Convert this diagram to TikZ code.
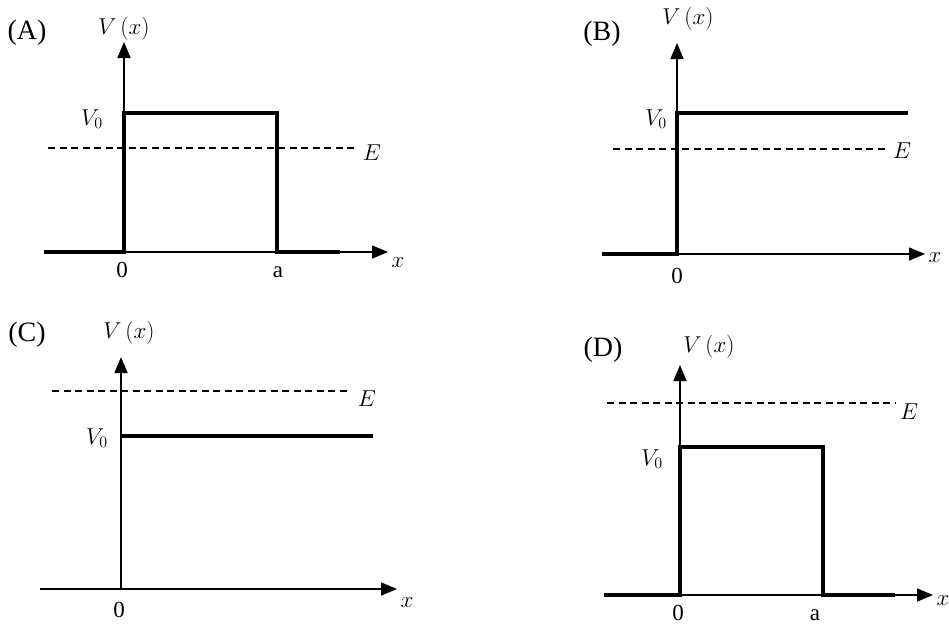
\documentclass[tikz,border=0pt]{standalone}
\usepackage{fix-cm}
\usepackage{amsmath}
\usepackage{fontspec}
\setmainfont{Liberation Serif}
\usetikzlibrary{arrows.meta,positioning}

\begin{document}
\begin{tikzpicture}[
 x=1pt,y=-1pt,
 axis/.style={line width=1.5pt,-{Triangle[length=16pt,width=13pt]}},
 wall/.style={line width=3.6pt,line join=miter},
 level/.style={line width=1.1pt,dash pattern=on 7pt off 4.5pt},
 lbl/.style={font=\fontsize{23}{27}\selectfont,inner sep=0pt},
 tag/.style={font=\fontsize{28}{32}\selectfont,inner sep=0pt},
 tick/.style={lbl,anchor=base}
]
\useasboundingbox (0,0) rectangle (949,627);

% (A) finite barrier, E below V0
\coordinate (a-left) at (44,252);
\coordinate (a-o) at (124,252);
\coordinate (a-top) at (124,42);
\coordinate (a-tip) at (388,252);
\coordinate (a-v0l) at (124,113);
\coordinate (a-v0r) at (277,113);
\coordinate (a-a) at (277,252);
\coordinate (a-end) at (340,252);
\coordinate (a-el) at (48,148);
\coordinate (a-er) at (357,148);
\draw[axis] (a-o) -- (a-top);
\draw[axis] (a-left) -- (a-tip);
\draw[wall] (a-left) -- (a-o) -- (a-v0l) -- (a-v0r) -- (a-a) -- (a-end);
\draw[level] (a-el) -- (a-er);
\node[tag] (a-tag) at (27,33) {(A)};
\node[lbl] (a-vx) at (124,29) {$V\,(x)$};
\node[lbl] (a-v0) at (92,119) {$V_0$};
\node[lbl] (a-e) at (372,153) {$E$};
\node[lbl] (a-x) at (398,263) {$x$};
\node[tick] (a-zero) at (122,277) {0};
\node[tick] (a-alab) at (278,277) {a};

% (B) step, E below V0
\coordinate (b-left) at (602,254);
\coordinate (b-o) at (677,254);
\coordinate (b-top) at (677,43);
\coordinate (b-tip) at (925,254);
\coordinate (b-v0l) at (677,113);
\coordinate (b-v0r) at (908,113);
\coordinate (b-el) at (613,149);
\coordinate (b-er) at (888,149);
\draw[axis] (b-o) -- (b-top);
\draw[axis] (b-left) -- (b-tip);
\draw[wall] (b-left) -- (b-o) -- (b-v0l) -- (b-v0r);
\draw[level] (b-el) -- (b-er);
\node[tag] (b-tag) at (602,34) {(B)};
\node[lbl] (b-vx) at (688,19) {$V\,(x)$};
\node[lbl] (b-v0) at (656,119) {$V_0$};
\node[lbl] (b-e) at (902,151) {$E$};
\node[lbl] (b-x) at (935,258) {$x$};
\node[tick] (b-zero) at (677,283) {0};

% (C) step, E above V0
\coordinate (c-left) at (40,589);
\coordinate (c-o) at (121,589);
\coordinate (c-top) at (121,357);
\coordinate (c-tip) at (397,589);
\coordinate (c-v0l) at (121,436);
\coordinate (c-v0r) at (373,436);
\coordinate (c-el) at (52,391);
\coordinate (c-er) at (348,391);
\draw[axis] (c-o) -- (c-top);
\draw[axis] (c-left) -- (c-tip);
\draw[wall] (c-v0l) -- (c-v0r);
\draw[level] (c-el) -- (c-er);
\node[tag] (c-tag) at (27,335) {(C)};
\node[lbl] (c-vx) at (129,333) {$V\,(x)$};
\node[lbl] (c-v0) at (97,438) {$V_0$};
\node[lbl] (c-e) at (367,399) {$E$};
\node[lbl] (c-x) at (407,603) {$x$};
\node[tick] (c-zero) at (119,617) {0};

% (D) finite barrier, E above V0
\coordinate (d-left) at (604,595);
\coordinate (d-o) at (680,595);
\coordinate (d-top) at (680,365);
\coordinate (d-tip) at (933,595);
\coordinate (d-v0l) at (680,447);
\coordinate (d-v0r) at (823,447);
\coordinate (d-a) at (823,595);
\coordinate (d-end) at (895,595);
\coordinate (d-el) at (607,403);
\coordinate (d-er) at (895,403);
\draw[axis] (d-o) -- (d-top);
\draw[axis] (d-left) -- (d-tip);
\draw[wall] (d-left) -- (d-o) -- (d-v0l) -- (d-v0r) -- (d-a) -- (d-end);
\draw[level] (d-el) -- (d-er);
\node[tag] (d-tag) at (603,350) {(D)};
\node[lbl] (d-vx) at (709,347) {$V\,(x)$};
\node[lbl] (d-v0) at (652,459) {$V_0$};
\node[lbl] (d-e) at (909,412) {$E$};
\node[lbl] (d-x) at (943,601) {$x$};
\node[tick] (d-zero) at (678,620) {0};
\node[tick] (d-alab) at (815,620) {a};
\end{tikzpicture}
\end{document}
